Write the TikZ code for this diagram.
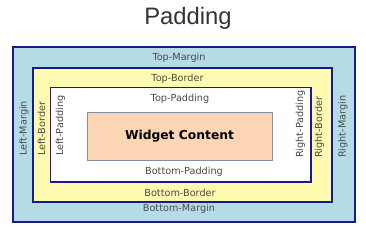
\documentclass[tikz,border=0pt]{standalone}
\usepackage{fontspec}
\setmainfont{DejaVu Sans}
\newfontfamily\titlefont{Liberation Sans}
\usepackage{xcolor}
\usepackage{tikz}
\usetikzlibrary{positioning}
\definecolor{navy}{HTML}{1A1A8C}
\definecolor{marginblue}{HTML}{B5DCE6}
\definecolor{borderyellow}{HTML}{FFFAB0}
\definecolor{peach}{HTML}{FCD5B5}
\definecolor{edgegray}{HTML}{7F8FA8}
\definecolor{ink}{HTML}{4A4A4A}
\definecolor{titleink}{HTML}{333333}

\begin{document}
\begin{tikzpicture}[
  x=1pt, y=-1pt,
  layer/.style={draw=navy, line width=1.6pt, inner sep=0pt, outer sep=0pt},
  lab/.style={text=ink, font=\fontsize{9.7}{10}\selectfont, inner sep=0pt},
  sidelab/.style={lab, rotate=90, anchor=west}
]
\useasboundingbox (0,0) rectangle (366,247);
\node[text=titleink, font=\titlefont\fontsize{23.8}{26}\selectfont] (title) at (188,18) {Padding};
% nested boxes
\node[layer, fill=marginblue, minimum width=342pt, minimum height=175pt] (margin) at (184,134.5) {};
\node[layer, fill=borderyellow, minimum width=299pt, minimum height=134pt] (border) at (182.5,135) {};
\node[layer, fill=white, minimum width=260.5pt, minimum height=94.5pt] (padding) at (180.75,134.75) {};
\node[draw=edgegray, fill=peach, line width=0.8pt, minimum width=185pt, minimum height=48pt, inner sep=0pt,
  font=\bfseries\fontsize{12.3}{14}\selectfont] (content) at (179.5,136) {Widget Content};
% top and bottom labels
\node[lab] (topm) at (179,58) {Top-Margin};
\node[lab] (topb) at (177.5,79) {Top-Border};
\node[lab] (topp) at (180,99) {Top-Padding};
\node[lab] (botp) at (184,172) {Bottom-Padding};
\node[lab] (botb) at (180,193) {Bottom-Border};
\node[lab] (botm) at (179,209) {Bottom-Margin};
% side labels
\node[sidelab] (leftm) at (24,156) {Left-Margin};
\node[sidelab] (leftb) at (41.5,156) {Left-Border};
\node[sidelab] (leftp) at (60.5,156) {Left-Padding};
\node[sidelab] (rightp) at (300.5,158) {Right-Padding};
\node[sidelab] (rightb) at (319.5,158) {Right-Border};
\node[sidelab] (rightm) at (343,158) {Right-Margin};
\end{tikzpicture}
\end{document}
